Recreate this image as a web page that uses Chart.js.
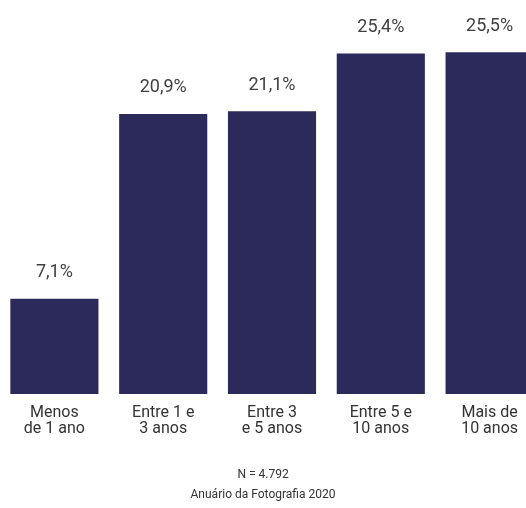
<!DOCTYPE html>
<html>
<head>
<meta charset="utf-8">
<script src="https://cdn.jsdelivr.net/npm/chart.js@4/dist/chart.umd.min.js"></script>
<style>
	html, body { margin: 0; padding: 0; background: #fff; overflow: hidden; }
	#wrap { position: relative; width: 544px; height: 508px; }
</style>
</head>
<body>
<div id="wrap"><canvas id="chart"></canvas></div>
<script>
const categories = [
	['Menos', 'de 1 ano'],
	['Entre 1 e', '3 anos'],
	['Entre 3', 'e 5 anos'],
	['Entre 5 e', '10 anos'],
	['Mais de', '10 anos'],
]
const values = [7.1, 20.9, 21.1, 25.4, 25.5]
const footerLines = ['N = 4.792', 'Anuário da Fotografia 2020']

const barColor = '#2c2a5b'
const textColor = '#333333'
const fontFamily = 'Roboto, "Noto Sans", sans-serif'

// labels above each bar, plus the two footer lines
const labelsPlugin = {
	id: 'labels',
	afterDatasetsDraw(chart) {
		const ctx = chart.ctx
		const meta = chart.getDatasetMeta(0)
		ctx.save()
		ctx.fillStyle = '#404040'
		ctx.font = '18px ' + fontFamily
		ctx.textAlign = 'center'
		ctx.textBaseline = 'middle'
		meta.data.forEach((bar, i) => {
			ctx.fillText(values[i].toFixed(1).replace('.', ',') + '%', bar.x, bar.y - 26)
		})
		ctx.font = '12px ' + fontFamily
		ctx.fillStyle = textColor
		ctx.fillText(footerLines[0], 263, 475)
		ctx.fillText(footerLines[1], 263, 495)
		ctx.restore()
	}
}

let canvas = document.getElementById('chart')
let ctx = canvas.getContext('2d')
new Chart(ctx, {
	type: 'bar',
	data: {
		labels: categories,
		datasets: [{
			label: 'Tempo',
			data: values,
			backgroundColor: barColor,
			borderWidth: 0,
			barPercentage: 0.81,
			categoryPercentage: 1,
		}]
	},
	plugins: [labelsPlugin],
	options: {
		responsive: true,
		maintainAspectRatio: false,
		animation: false,
		layout: { padding: 0 },
		scales: {
			x: {
				grid: { display: false, drawTicks: false },
				border: { display: false },
				ticks: {
					color: textColor,
					padding: 11,
					maxRotation: 0,
					autoSkip: false,
					font: { family: fontFamily, size: 16, lineHeight: 1.0 }
				},
				afterFit: (scale) => { scale.height = 114 }
			},
			y: {
				display: false,
				min: 0,
				max: 29.4
			}
		},
		plugins: {
			legend: { display: false },
			tooltip: { enabled: false }
		}
	}
})
</script>
</body>
</html>
